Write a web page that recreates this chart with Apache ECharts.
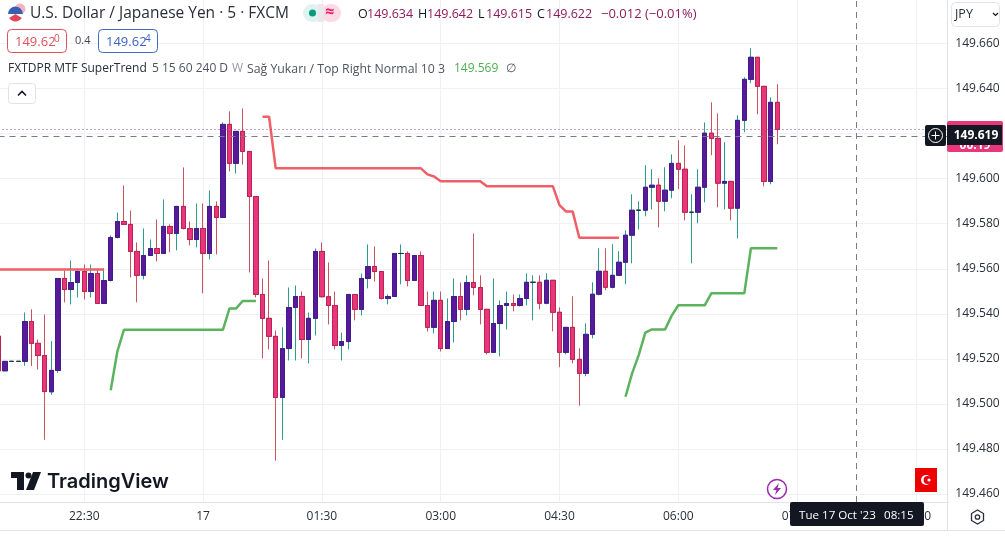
<!DOCTYPE html>
<html><head><meta charset="utf-8">
<style>html,body{margin:0;padding:0;background:#fff}#c{width:1005px;height:536px}</style>
<script src="https://cdn.jsdelivr.net/npm/echarts@6/dist/echarts.min.js"></script>
</head><body><div id="c"></div>
<script>
const opens=[149.5301,149.5147,149.5189,149.5189,149.5189,149.5366,149.5269,149.5215,149.5054,149.5149,149.5557,149.5508,149.5539,149.5588,149.5499,149.5579,149.5446,149.5548,149.5739,149.5810,149.5797,149.5677,149.5571,149.5659,149.5690,149.5668,149.5788,149.5757,149.5877,149.5779,149.5730,149.5779,149.5668,149.5877,149.5828,149.6241,149.6068,149.6210,149.6121,149.5921,149.5486,149.5380,149.5300,149.5029,149.5246,149.5428,149.5477,149.5286,149.5380,149.5677,149.5476,149.5437,149.5260,149.5277,149.5486,149.5420,149.5557,149.5610,149.5588,149.5468,149.5477,149.5668,149.5668,149.5548,149.5659,149.5437,149.5340,149.5460,149.5246,149.5366,149.5477,149.5420,149.5539,149.5517,149.5420,149.5229,149.5357,149.5437,149.5446,149.5437,149.5468,149.5540,149.5540,149.5447,149.5549,149.5407,149.5229,149.5340,149.5198,149.5136,149.5309,149.5487,149.5589,149.5518,149.5571,149.5629,149.5749,149.5860,149.5860,149.5962,149.5971,149.5900,149.5949,149.6068,149.6042,149.5851,149.5851,149.5962,149.6202,149.6179,149.5980,149.5988,149.5869,149.6259,149.6441,149.6539,149.6410,149.5988,149.6339];
const closes=[149.5147,149.5189,149.5189,149.5189,149.5366,149.5269,149.5215,149.5055,149.5149,149.5557,149.5508,149.5539,149.5588,149.5499,149.5579,149.5446,149.5548,149.5739,149.5810,149.5797,149.5677,149.5571,149.5659,149.5690,149.5668,149.5788,149.5757,149.5877,149.5779,149.5730,149.5779,149.5668,149.5877,149.5828,149.6241,149.6068,149.6210,149.6121,149.5921,149.5486,149.5380,149.5300,149.5029,149.5246,149.5428,149.5477,149.5286,149.5380,149.5677,149.5476,149.5437,149.5260,149.5277,149.5486,149.5420,149.5557,149.5610,149.5588,149.5468,149.5477,149.5668,149.5668,149.5548,149.5659,149.5437,149.5340,149.5460,149.5246,149.5366,149.5477,149.5420,149.5539,149.5517,149.5420,149.5229,149.5357,149.5437,149.5446,149.5437,149.5468,149.5540,149.5540,149.5447,149.5549,149.5407,149.5229,149.5340,149.5198,149.5136,149.5309,149.5487,149.5589,149.5518,149.5571,149.5629,149.5749,149.5860,149.5860,149.5962,149.5971,149.5900,149.5949,149.6068,149.6042,149.5851,149.5851,149.5962,149.6202,149.6179,149.5980,149.5988,149.5869,149.6259,149.6441,149.6539,149.6410,149.5988,149.6339,149.6219];
const highs=[149.5301,149.5189,149.5189,149.5189,149.5406,149.5420,149.5286,149.5397,149.5279,149.5557,149.5591,149.5637,149.5602,149.5619,149.5619,149.5597,149.5602,149.5748,149.5850,149.5970,149.5859,149.5717,149.5779,149.5730,149.5819,149.5908,149.5797,149.5877,149.6050,149.5810,149.5890,149.5890,149.5948,149.5899,149.6250,149.6299,149.6210,149.6312,149.6121,149.5921,149.5557,149.5637,149.5326,149.5340,149.5517,149.5526,149.5499,149.5406,149.5690,149.5717,149.5628,149.5499,149.5317,149.5486,149.5486,149.5579,149.5708,149.5699,149.5588,149.5486,149.5668,149.5708,149.5677,149.5659,149.5677,149.5499,149.5499,149.5499,149.5468,149.5557,149.5539,149.5571,149.5757,149.5571,149.5420,149.5557,149.5460,149.5499,149.5486,149.5486,149.5580,149.5571,149.5571,149.5580,149.5549,149.5429,149.5340,149.5478,149.5247,149.5358,149.5540,149.5691,149.5691,149.5709,149.5678,149.5771,149.5931,149.5900,149.6060,149.6042,149.6002,149.6051,149.6108,149.6171,149.6148,149.5931,149.6042,149.6250,149.6339,149.6290,149.6162,149.5988,149.6282,149.6450,149.6579,149.6539,149.6410,149.6361,149.6419];
const lows=[149.5147,149.5147,149.5189,149.5189,149.5169,149.5169,149.5153,149.4841,149.5041,149.5138,149.5451,149.5442,149.5473,149.5464,149.5473,149.5446,149.5446,149.5544,149.5735,149.5797,149.5562,149.5451,149.5553,149.5659,149.5633,149.5668,149.5673,149.5682,149.5775,149.5704,149.5695,149.5491,149.5642,149.5664,149.5828,149.6032,149.6023,149.6063,149.5584,149.5473,149.5202,149.5242,149.4748,149.4841,149.5193,149.5193,149.5202,149.5180,149.5304,149.5473,149.5353,149.5242,149.5193,149.5242,149.5371,149.5393,149.5513,149.5544,149.5464,149.5442,149.5477,149.5531,149.5522,149.5548,149.5437,149.5322,149.5313,149.5233,149.5246,149.5273,149.5371,149.5393,149.5482,149.5353,149.5220,149.5229,149.5211,149.5331,149.5411,149.5433,149.5438,149.5371,149.5420,149.5442,149.5322,149.5163,149.5220,149.5180,149.4992,149.5123,149.5291,149.5482,149.5505,149.5513,149.5571,149.5531,149.5624,149.5775,149.5833,149.5864,149.5784,149.5855,149.5913,149.5953,149.5815,149.5624,149.5802,149.5895,149.6104,149.5873,149.5864,149.5815,149.5735,149.6206,149.6424,149.6286,149.5966,149.5975,149.6153];
const superUp=[null,null,null,null,null,null,null,null,null,null,null,null,null,null,null,null,null,149.5061,149.5232,149.5329,149.5329,149.5329,149.5329,149.5329,149.5329,149.5329,149.5329,149.5329,149.5329,149.5329,149.5329,149.5329,149.5329,149.5329,149.5329,149.5424,149.5424,149.5457,149.5457,149.5457,null,null,null,null,null,null,null,null,null,null,null,null,null,null,null,null,null,null,null,null,null,null,null,null,null,null,null,null,null,null,null,null,null,null,null,null,null,null,null,null,null,null,null,null,null,null,null,null,null,null,null,null,null,null,null,149.5032,149.5136,149.5217,149.5317,149.5331,149.5331,149.5331,149.5392,149.5438,149.5438,149.5438,149.5438,149.5438,149.5491,149.5491,149.5491,149.5491,149.5491,149.5491,149.5691,149.5691,149.5691,149.5691,149.5691];
const superDown=[149.5597,149.5597,149.5597,149.5597,149.5597,149.5597,149.5597,149.5597,149.5597,149.5597,149.5597,149.5597,149.5597,149.5597,149.5597,149.5597,149.5597,null,null,null,null,null,null,null,null,null,null,null,null,null,null,null,null,null,null,null,null,null,null,null,149.6275,149.6275,149.6046,149.6046,149.6046,149.6046,149.6046,149.6046,149.6046,149.6046,149.6046,149.6046,149.6046,149.6046,149.6046,149.6046,149.6046,149.6046,149.6046,149.6046,149.6046,149.6046,149.6046,149.6046,149.6046,149.6019,149.6010,149.5989,149.5989,149.5989,149.5989,149.5989,149.5989,149.5989,149.5966,149.5966,149.5966,149.5966,149.5966,149.5966,149.5966,149.5966,149.5966,149.5966,149.5966,149.5883,149.5854,149.5854,149.5738,149.5738,149.5738,149.5738,149.5738,149.5738,149.5738];
const yTicks=[149.46,149.48,149.50,149.52,149.54,149.56,149.58,149.60,149.62,149.64,149.66];
const timeTicks=['22:30','00:00','01:30','03:00','04:30','06:00','07:30','09:00'];
const askLine=149.6219, crossPrice=149.619, crossTime='08:15';
const categories=[];
for(let k=0,m=21*60+25;k<145;k++,m+=5){const t=m%1440;categories.push(String(Math.floor(t/60)).padStart(2,'0')+':'+String(t%60).padStart(2,'0'));}

const FONT='"Open Sans","Noto Sans",sans-serif';
const UP='#5A189A',DN='#E8357C',UPB='#3E1C8C',DNB='#B8234F',UPW='#2A9D8F',DNW='#C9535F';
const chart=echarts.init(document.getElementById('c'),null,{renderer:'canvas'});
const wickData=opens.map((o,i)=>[o,closes[i],lows[i],highs[i]]);
const bodyData=opens.map((o,i)=>[o,closes[i],Math.min(o,closes[i]),Math.max(o,closes[i])]);
const T=(x,y,text,o={})=>({type:'text',x,y,z:100,silent:true,style:Object.assign({text,fill:'#131722',font:'13px '+FONT,verticalAlign:'middle'},o)});
const R=(x,y,w,h,fill,stroke,r=0,z=100)=>({type:'rect',z,silent:true,shape:{x,y,width:w,height:h,r},style:{fill,stroke,lineWidth:1}});
const L=(x1,y1,x2,y2,c,w=1,dash)=>({type:'line',z:100,silent:true,shape:{x1,y1,x2,y2},style:{stroke:c,lineWidth:w,lineDash:dash}});
const C=(cx,cy,r,fill,stroke,lw=1,z=100)=>({type:'circle',z,silent:true,shape:{cx,cy,r},style:{fill,stroke,lineWidth:lw}});
const G=(pts,fill,stroke,lw=1)=>({type:'polygon',z:101,silent:true,shape:{points:pts},style:{fill,stroke,lineWidth:lw}});
const S=(cx,cy,r,a0,a1,fill)=>({type:'sector',z:101,silent:true,shape:{cx,cy,r,r0:0,startAngle:a0,endAngle:a1},style:{fill}});
const PK='#8E1B5C';
const graphics=[
 C(20,9,5.5,'#F5B5C0'),C(15.5,14,7.5,'#fff'),
 S(15.5,14,7.5,Math.PI,Math.PI*2,'#3A5FB0'),
 S(15.5,14,7.5,Math.PI*0.18,Math.PI*0.82,'#E0455A'),
 T(30,14,'U.S. Dollar / Japanese Yen · 5 · FXCM',{font:'15.5px '+FONT,fill:'#2A2E39',letterSpacing:0.7}),
 R(303,4,20,18,'#DFF3EF',null,9),R(321,4,20,18,'#FBD9E5',null,9),R(318,4,6,18,'#EDE6EA'),
 C(312.5,13,3.5,'#089981'),T(325,12.5,'≈',{font:'bold 16px '+FONT,fill:'#E91E63'}),
 T(358,14,'O',{font:'12.5px '+FONT}),T(367,14,'149.634',{font:'12.5px '+FONT,fill:PK}),
 T(418,14,'H',{font:'12.5px '+FONT}),T(427,14,'149.642',{font:'12.5px '+FONT,fill:PK}),
 T(478,14,'L',{font:'12.5px '+FONT}),T(486,14,'149.615',{font:'12.5px '+FONT,fill:PK}),
 T(537,14,'C',{font:'12.5px '+FONT}),T(546,14,'149.622',{font:'12.5px '+FONT,fill:PK}),
 T(601,14,'−0.012 (−0.01%)',{font:'13px '+FONT,fill:PK}),
 R(7.5,29.5,59,23,'#fff','#D9535F',4),T(15,42,'149.62',{font:'13px '+FONT,fill:'#E0505A'}),T(54,39,'0',{font:'10px '+FONT,fill:'#E0505A'}),
 T(75,41,'0.4',{font:'11px '+FONT,fill:'#434651'}),
 R(98.5,29.5,59,23,'#fff','#3F6AC8',4),T(106,42,'149.62',{font:'13px '+FONT,fill:'#3B62C4'}),T(145,39,'4',{font:'10px '+FONT,fill:'#3B62C4'}),
 T(8,69,'FXTDPR MTF SuperTrend',{font:'12px '+FONT,fill:'#2A2E39'}),
 T(152,69,'5 15 60 240 D',{font:'12px '+FONT,fill:'#50535E'}),T(232,69,'W',{font:'12px '+FONT,fill:'#9598A1'}),
 T(247,69,'Sağ Yukarı / Top Right Normal 10 3',{font:'12.3px '+FONT,fill:'#50535E'}),
 T(454,69,'149.569',{font:'12px '+FONT,fill:'#4CAF50'}),T(506,69,'∅',{font:'12px '+FONT,fill:'#50535E'}),
 R(8.5,83.5,27,20,'#fff','#E0E3EB',3),
 {type:'polyline',z:101,silent:true,shape:{points:[[18,95.5],[22,91.5],[26,95.5]]},style:{stroke:'#131722',lineWidth:1.6,fill:null}},
 R(947,121,56,31,'#E8387A',null,2),T(975,146,'00:19',{font:'bold 12px '+FONT,fill:'#fff',align:'center'}),
 R(947,125,55,20,'#131722',null,0),T(976,135.5,'149.619',{font:'bold 12px '+FONT,fill:'#fff',align:'center'}),
 R(925,125,21,21,'#131722',null,2),C(935.5,135.5,7,null,'#fff',1),L(931.5,135.5,939.5,135.5,'#fff'),L(935.5,131.5,935.5,139.5,'#fff'),
 R(951.5,2.5,48,24,'#fff','#E0E3EB',4),T(955,14.5,'JPY',{font:'12.5px '+FONT,fill:'#2A2E39'}),
 {type:'polyline',z:101,silent:true,shape:{points:[[993,13],[995.5,15.5],[998,13]]},style:{stroke:'#131722',lineWidth:1.2,fill:null}},
 L(0,530.5,1005,530.5,'#E0E3EB'),L(947.5,502,947.5,530,'#E0E3EB'),
 G([[977.5,510],[983.5,513.5],[983.5,520.5],[977.5,524],[971.5,520.5],[971.5,513.5]],null,'#2A2E39',1.3),C(977.5,517,2.2,null,'#2A2E39',1.3),
 R(790,502,134,24,'#131722',null,2),T(799,516,"Tue 17 Oct '23",{font:'11.6px '+FONT,fill:'#fff'}),T(884,516,"08:15",{font:'11.6px '+FONT,fill:'#fff'}),
 G([[11,472],[24,472],[24,490],[17,490],[17,478],[11,478]],'#131722',null),
 G([[33,472],[41,472],[34,490],[26,490]],'#131722',null),C(28.5,475.5,3,'#131722'),
 T(47,481.5,'TradingView',{font:'600 20px Inter,"Open Sans",sans-serif',fill:'#131722'}),
 C(777,489,9.5,'#fff','#9C27B0',1.5),G([[779,483],[773,490],[776.5,490],[775,495],[781,488],[777.5,488]],'#9C27B0',null),
 R(915,468,22,24,'#EE0000',null,0),C(926,480,5,'#fff'),C(927.6,480,4,'#EE0000'),C(929,480,1.6,'#fff')
];
chart.setOption({
 animation:false,backgroundColor:'#fff',
 grid:{left:-1.5,top:0,width:950.4,height:502,containLabel:false,outerBoundsMode:'none'},
 xAxis:{type:'category',data:categories,boundaryGap:false,
  axisLine:{show:true,lineStyle:{color:'#E0E3EB'}},axisTick:{show:false},
  axisLabel:{interval:(i,v)=>timeTicks.includes(v),formatter:v=>v==='00:00'?'17':v,color:'#2A2E39',fontSize:12,fontFamily:FONT,margin:9,hideOverlap:false},
  splitLine:{show:true,interval:(i,v)=>timeTicks.includes(v),lineStyle:{color:'#EFF1F5',width:1}}},
 yAxis:{type:'value',position:'right',offset:-1.6,scale:true,min:149.45647,max:149.67933,
  axisLine:{show:true,lineStyle:{color:'#E0E3EB'}},
  axisTick:{show:false,customValues:yTicks},
  axisLabel:{customValues:yTicks,formatter:v=>v.toFixed(3),color:'#2A2E39',fontSize:12,fontFamily:FONT,margin:8,padding:[2,0,0,0]},
  splitLine:{show:true,lineStyle:{color:'#EFF1F5',width:1}}},
 series:[
  {type:'candlestick',name:'wick',data:wickData,barWidth:5,z:2,
   itemStyle:{color:UPW,color0:DNW,borderColor:UPW,borderColor0:DNW,borderColorDoji:UPW,borderWidth:1}},
  {type:'candlestick',name:'body',data:bodyData,barWidth:5,z:3,
   itemStyle:{color:UP,color0:DN,borderColor:UPB,borderColor0:DNB,borderColorDoji:'#2A2E39',borderWidth:1},
   markLine:{silent:true,symbol:'none',animation:false,precision:4,label:{show:false},data:[
    {yAxis:askLine,lineStyle:{color:'#A0408F',type:[1,3],width:1}},
    {yAxis:crossPrice,lineStyle:{color:'#787B86',type:[6,5],width:1}},
    {xAxis:crossTime,lineStyle:{color:'#787B86',type:[6,5],width:1}}
   ]}},
  {type:'line',name:'SuperTrend Down',data:superDown,connectNulls:false,showSymbol:false,symbol:'none',z:4,lineStyle:{color:'#EF5F67',width:2.5},itemStyle:{color:'#EF5F67'}},
  {type:'line',name:'SuperTrend Up',data:superUp,connectNulls:false,showSymbol:false,symbol:'none',z:4,lineStyle:{color:'#5BB35E',width:2.5},itemStyle:{color:'#5BB35E'}}
 ],
 graphic:{elements:graphics}
});
</script></body></html>
